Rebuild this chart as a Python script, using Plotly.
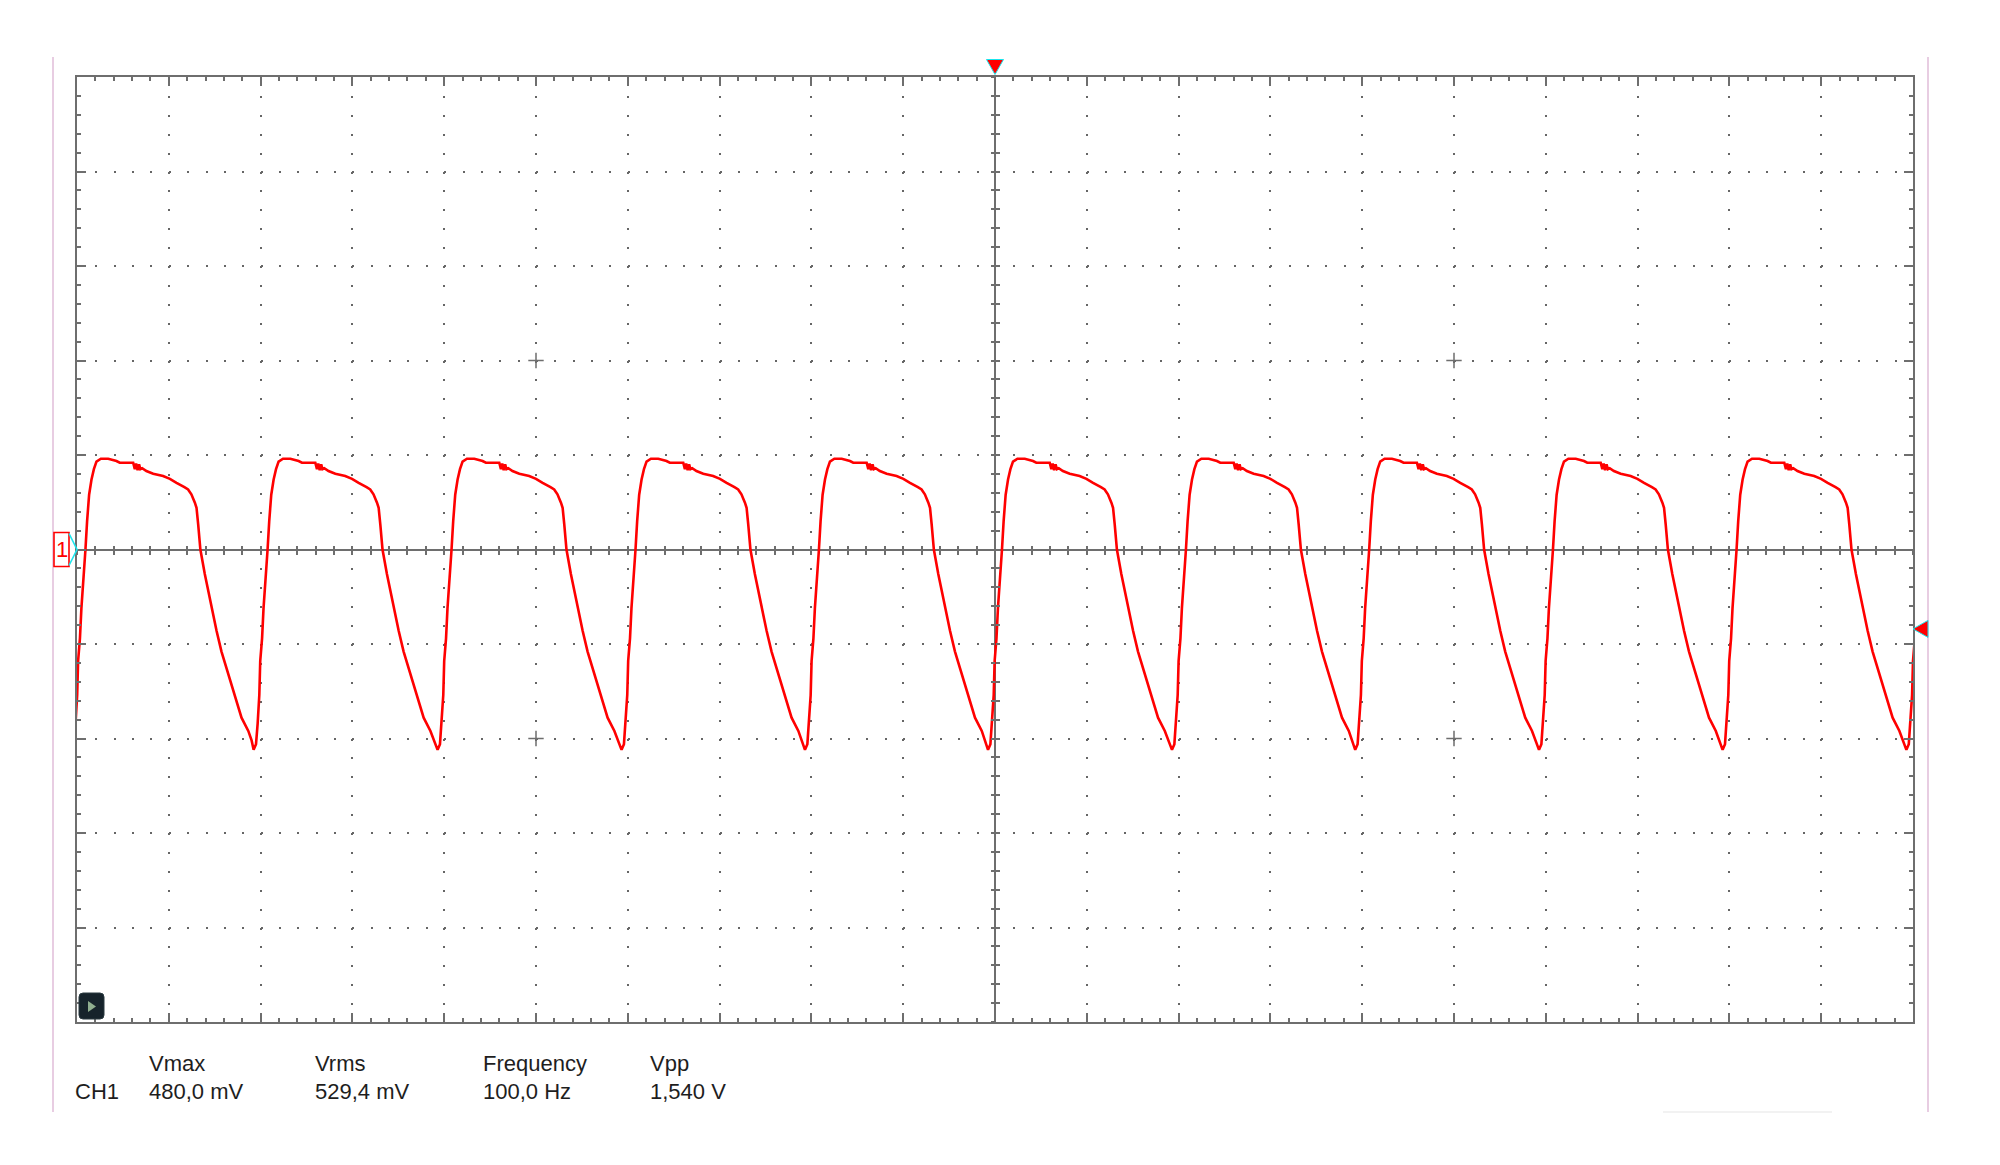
import plotly.graph_objects as go

# ---------------- data ----------------
# one period of CH1, phase in ms measured from the trough, voltage in V
PHASE_MS = [0.00, 0.13, 0.22, 0.31, 0.36, 0.46, 0.54, 0.67, 0.76, 0.85,
            0.96, 1.09, 1.22, 1.36, 1.6, 2.0, 2.45, 2.63, 3.0, 3.36,
            3.45, 3.52, 3.6, 3.68, 3.75, 3.85, 4.08, 4.45, 4.99, 5.36,
            5.72, 5.90, 6.15, 6.35, 6.53, 6.72, 6.81, 6.90, 7.02, 7.26,
            7.54, 7.90, 8.17, 8.54, 8.90, 9.26, 9.63, 9.81]
CYCLE_V = [-1.06, -1.03, -0.92, -0.77, -0.59, -0.47, -0.31, -0.15, 0.00, 0.15,
           0.29, 0.37, 0.425, 0.465, 0.48, 0.48, 0.468, 0.459, 0.46, 0.459,
           0.425, 0.455, 0.42, 0.45, 0.425, 0.43, 0.415, 0.401, 0.389, 0.374,
           0.353, 0.345, 0.33, 0.318, 0.292, 0.248, 0.221, 0.133, 0.00, -0.13,
           -0.27, -0.43, -0.54, -0.66, -0.785, -0.89, -0.96, -1.01]
# times of the troughs (ms, trigger at 0)
TROUGH_MS = [-50.30, -40.38, -30.36, -20.34, -10.35, -0.38,
             9.64, 19.62, 29.63, 39.63, 49.64]

TIME_RANGE = [-50, 50]      # 20 div x 5 ms
VOLT_RANGE = [-2.5, 2.5]    # 10 div x 0.5 V
TIME_DIV = 5
VOLT_DIV = 0.5
TRIGGER_LEVEL_V = -0.42
CH1_OFFSET_V = 0.0
CROSS_T = [-25, 25, -25, 25]
CROSS_V = [1.0, 1.0, -1.0, -1.0]

MEAS_NAMES = ["Vmax", "Vrms", "Frequency", "Vpp"]
MEAS_VALUES = ["480,0 mV", "529,4 mV", "100,0 Hz", "1,540 V"]
CHANNEL = "CH1"

# ---------------- build trace ----------------
t_vals, v_vals = [], []
for T in TROUGH_MS:
    for p, v in zip(PHASE_MS, CYCLE_V):
        t_vals.append(T + p)
        v_vals.append(v)

GRAY = "#6e6e6e"
DOT = "#666666"
RED = "#ff0000"
CYAN = "#19e6ee"

fig = go.Figure()
fig.add_trace(go.Scatter(x=t_vals, y=v_vals, mode="lines",
                         line=dict(color=RED, width=2.6), hoverinfo="skip",
                         showlegend=False))
fig.add_trace(go.Scatter(x=CROSS_T, y=CROSS_V, mode="markers",
                         marker=dict(symbol="cross-thin", size=11,
                                     line=dict(color=GRAY, width=1.5)),
                         hoverinfo="skip", showlegend=False))
# helper traces so the centre tick axes are drawn
for xa, ya in [("x2", "y"), ("x3", "y"), ("x", "y2"), ("x", "y3")]:
    fig.add_trace(go.Scatter(x=[None], y=[None], xaxis=xa, yaxis=ya,
                             showlegend=False, hoverinfo="skip"))

common_x = dict(range=TIME_RANGE, dtick=TIME_DIV, tick0=0, showticklabels=False,
                fixedrange=True)
common_y = dict(range=VOLT_RANGE, dtick=VOLT_DIV, tick0=0, showticklabels=False,
                fixedrange=True)

# page body has an 8px margin, so the figure is 16px smaller than the window
fig.update_layout(
    width=1984, height=1149,
    margin=dict(l=69, r=79, t=69, b=135, pad=0),
    paper_bgcolor="white", plot_bgcolor="white",
    xaxis=dict(**common_x, showline=True, linecolor=GRAY, linewidth=2,
               mirror="ticks", ticks="inside", ticklen=9, tickwidth=1.5,
               tickcolor=GRAY,
               minor=dict(dtick=1, ticks="inside", ticklen=4, tickwidth=1.5,
                          tickcolor=GRAY, showgrid=False),
               showgrid=True, gridcolor=DOT, gridwidth=2,
               griddash="2px,16.9px",
               zeroline=True, zerolinecolor=GRAY, zerolinewidth=1.6),
    yaxis=dict(**common_y, showline=True, linecolor=GRAY, linewidth=2,
               mirror="ticks", ticks="inside", ticklen=9, tickwidth=1.5,
               tickcolor=GRAY,
               minor=dict(dtick=0.1, ticks="inside", ticklen=4, tickwidth=1.5,
                          tickcolor=GRAY, showgrid=False),
               showgrid=True, gridcolor=DOT, gridwidth=2,
               griddash="2px,16.36px",
               zeroline=True, zerolinecolor=GRAY, zerolinewidth=1.6),
    xaxis2=dict(**common_x, overlaying="x", anchor="free", position=0.5,
                showline=False, showgrid=False, zeroline=False,
                ticks="outside", ticklen=4, tickwidth=1.5, tickcolor=GRAY,
                minor=dict(dtick=1, ticks="outside", ticklen=4, tickwidth=1.5,
                           tickcolor=GRAY)),
    xaxis3=dict(**common_x, overlaying="x", anchor="free", position=0.5,
                showline=False, showgrid=False, zeroline=False,
                ticks="inside", ticklen=4, tickwidth=1.5, tickcolor=GRAY,
                minor=dict(dtick=1, ticks="inside", ticklen=4, tickwidth=1.5,
                           tickcolor=GRAY)),
    yaxis2=dict(**common_y, overlaying="y", anchor="free", position=0.5,
                showline=False, showgrid=False, zeroline=False,
                ticks="outside", ticklen=4, tickwidth=1.5, tickcolor=GRAY,
                minor=dict(dtick=0.1, ticks="outside", ticklen=4, tickwidth=1.5,
                           tickcolor=GRAY)),
    yaxis3=dict(**common_y, overlaying="y", anchor="free", position=0.5,
                showline=False, showgrid=False, zeroline=False,
                ticks="inside", ticklen=4, tickwidth=1.5, tickcolor=GRAY,
                minor=dict(dtick=0.1, ticks="inside", ticklen=4, tickwidth=1.5,
                           tickcolor=GRAY)),
)

shapes = []
# pink frame lines left/right
for xa, dx in [(0, -24), (1, 15)]:
    shapes.append(dict(type="line", xref="paper", yref="paper",
                       xsizemode="pixel", ysizemode="pixel",
                       xanchor=xa, yanchor=0, x0=dx, x1=dx, y0=-90, y1=965,
                       line=dict(color="#e8cde2", width=2), layer="below"))
# faint bottom line at right
shapes.append(dict(type="line", xref="paper", yref="paper",
                   xsizemode="pixel", ysizemode="pixel",
                   xanchor=1, yanchor=0, x0=-250, x1=-81, y0=-90, y1=-90,
                   line=dict(color="#eeeeee", width=1.5), layer="below"))
# channel 1 marker
shapes.append(dict(type="rect", xref="paper", yref="y",
                   xsizemode="pixel", ysizemode="pixel",
                   xanchor=0, yanchor=CH1_OFFSET_V, x0=-23, x1=-8, y0=-17, y1=17,
                   line=dict(color=RED, width=1.6), fillcolor="white"))
shapes.append(dict(type="path", xref="paper", yref="y",
                   xsizemode="pixel", ysizemode="pixel",
                   xanchor=0, yanchor=CH1_OFFSET_V,
                   path="M-8,16 L0,0 L-8,-16",
                   line=dict(color=CYAN, width=1.6)))
# trigger position marker (top)
shapes.append(dict(type="path", xref="x", yref="paper",
                   xsizemode="pixel", ysizemode="pixel",
                   xanchor=0, yanchor=1,
                   path="M-8.5,17.5 L8.5,17.5 L0,2.5 Z",
                   fillcolor=RED, line=dict(color=CYAN, width=1)))
# trigger level marker (right)
shapes.append(dict(type="path", xref="paper", yref="y",
                   xsizemode="pixel", ysizemode="pixel",
                   xanchor=1, yanchor=TRIGGER_LEVEL_V,
                   path="M0,0 L15,8.5 L15,-8.5 Z",
                   fillcolor=RED, line=dict(color=CYAN, width=1)))
# run icon bottom-left
shapes.append(dict(type="path", xref="paper", yref="paper",
                   xsizemode="pixel", ysizemode="pixel",
                   xanchor=0, yanchor=0,
                   path="M6,3 L23,3 Q27,3 27,7 L27,25 Q27,29 23,29 L6,29 Q2,29 2,25 L2,7 Q2,3 6,3 Z",
                   fillcolor="#16232b", line=dict(color="#2b3a40", width=1)))
shapes.append(dict(type="path", xref="paper", yref="paper",
                   xsizemode="pixel", ysizemode="pixel",
                   xanchor=0, yanchor=0,
                   path="M11,10 L11,21 L19,15.5 Z",
                   fillcolor="#8fae8f", line=dict(width=0)))
fig.update_layout(shapes=shapes)

FONT = dict(family="Liberation Sans, Arial, sans-serif", size=22, color="#1e1e1e")
ann = []
ann.append(dict(text="1", xref="paper", yref="y", x=0, y=CH1_OFFSET_V,
                xanchor="center", yanchor="middle", xshift=-15, yshift=0,
                showarrow=False,
                font=dict(family="Liberation Sans, Arial", size=22, color=RED)))
ann.append(dict(text=CHANNEL, xref="paper", yref="paper", x=0, y=0,
                xanchor="left", yanchor="middle", xshift=-4, yshift=-69,
                showarrow=False, font=FONT))
name_x = [70, 236, 404, 571]
for nx, name, val in zip(name_x, MEAS_NAMES, MEAS_VALUES):
    ann.append(dict(text=name, xref="paper", yref="paper", x=0, y=0,
                    xanchor="left", yanchor="middle", xshift=nx, yshift=-41,
                    showarrow=False, font=FONT))
    ann.append(dict(text=val, xref="paper", yref="paper", x=0, y=0,
                    xanchor="left", yanchor="middle", xshift=nx, yshift=-69,
                    showarrow=False, font=FONT))
fig.update_layout(annotations=ann)

fig.write_html("out.html")
